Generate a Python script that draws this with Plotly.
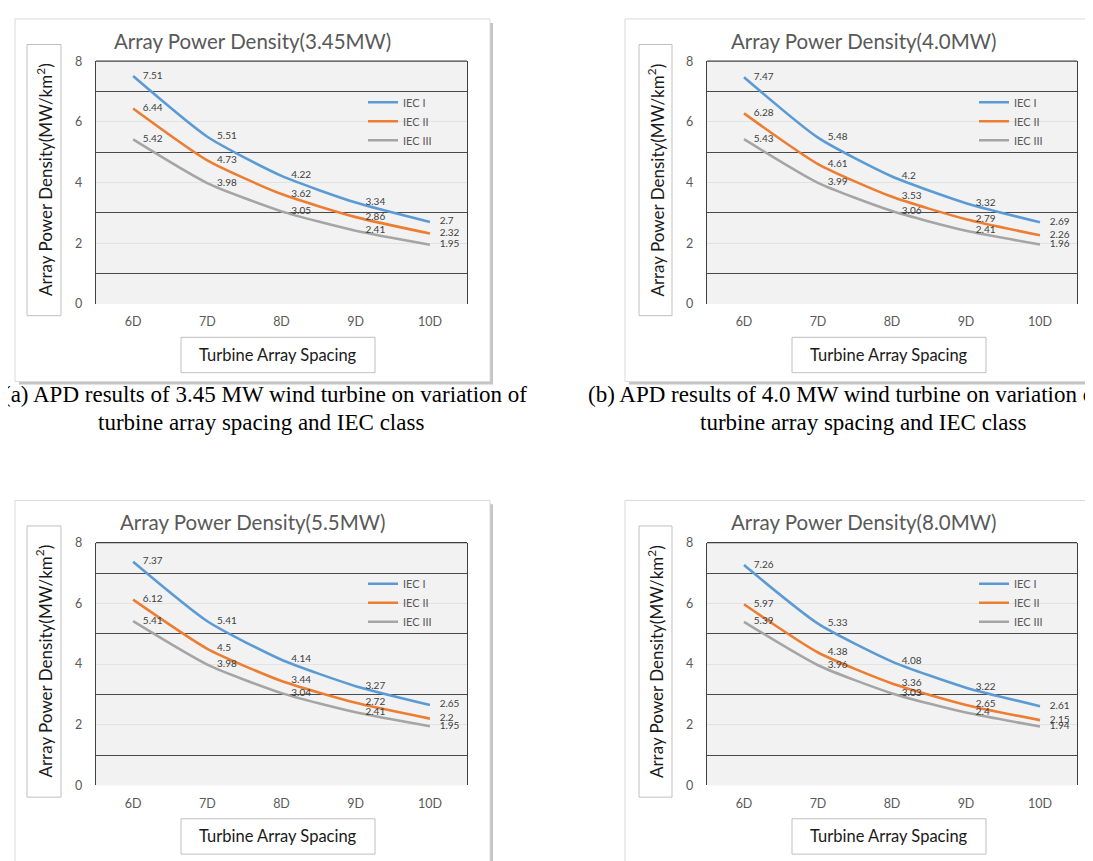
import plotly.graph_objects as go

W, H = 1093, 861

# ---------------- data ----------------
spacing = ['6D', '7D', '8D', '9D', '10D']
series_names = ['IEC I', 'IEC II', 'IEC III']

apd_345_iec1 = [7.51, 5.51, 4.22, 3.34, 2.7]
apd_345_iec2 = [6.44, 4.73, 3.62, 2.86, 2.32]
apd_345_iec3 = [5.42, 3.98, 3.05, 2.41, 1.95]

apd_40_iec1 = [7.47, 5.48, 4.2, 3.32, 2.69]
apd_40_iec2 = [6.28, 4.61, 3.53, 2.79, 2.26]
apd_40_iec3 = [5.43, 3.99, 3.06, 2.41, 1.96]

apd_55_iec1 = [7.37, 5.41, 4.14, 3.27, 2.65]
apd_55_iec2 = [6.12, 4.5, 3.44, 2.72, 2.2]
apd_55_iec3 = [5.41, 3.98, 3.04, 2.41, 1.95]

apd_80_iec1 = [7.26, 5.33, 4.08, 3.22, 2.61]
apd_80_iec2 = [5.97, 4.38, 3.36, 2.65, 2.15]
apd_80_iec3 = [5.39, 3.96, 3.03, 2.4, 1.94]

titles = ['Array Power Density(3.45MW)', 'Array Power Density(4.0MW)',
          'Array Power Density(5.5MW)', 'Array Power Density(8.0MW)']
y_title = 'Array Power Density(MW/km<sup>2</sup>)'
x_title = 'Turbine Array Spacing'
captions = [
    ('(a) APD results of 3.45 MW wind turbine on variation of', 'turbine array spacing and IEC class'),
    ('(b) APD results of 4.0 MW wind turbine on variation of', 'turbine array spacing and IEC class'),
]

panel_data = [
    [apd_345_iec1, apd_345_iec2, apd_345_iec3],
    [apd_40_iec1, apd_40_iec2, apd_40_iec3],
    [apd_55_iec1, apd_55_iec2, apd_55_iec3],
    [apd_80_iec1, apd_80_iec2, apd_80_iec3],
]

# ---------------- layout (pixels) ----------------
colors = ['#5B9BD5', '#ED7D31', '#A5A5A5']
FONT = 'Lato'
GRAY = '#595959'


def px(x):
    return x / W


def py(y):
    return 1 - y / H


geoms = []
for (col, dy) in [(0, 0), (1, 0), (0, 490), (1, 490)]:
    if col == 0:
        g = dict(plot=(88, 46, 459, 293), frame=(7, 3, 482, 372), ybox=(19, 29, 53, 305),
                 xbox=(173, 327, 367, 363), title=(244, 25), legend=(355, 73))
    else:
        g = dict(plot=(699, 46, 1069, 293), frame=(617, 3, 1092, 372), ybox=(631, 29, 664, 305),
                 xbox=(784, 327, 978, 363), title=(855, 25), legend=(966, 73))
    g = {k: tuple(v + (dy if i % 2 == 1 else 0) for i, v in enumerate(val)) for k, val in g.items()}
    geoms.append(g)

fig = go.Figure()
layout = dict(
    width=W, height=H,
    margin=dict(l=0, r=0, t=0, b=0),
    paper_bgcolor='white',
    plot_bgcolor='#F2F2F2',
    showlegend=True,
    shapes=[], annotations=[],
)

for p, (g, data) in enumerate(zip(geoms, panel_data)):
    n = '' if p == 0 else str(p + 1)
    xa, ya = 'x' + n, 'y' + n
    leg = 'legend' + n
    x0, y0, x1, y1 = g['plot']

    for s in range(3):
        # line (shown in legend)
        fig.add_trace(go.Scatter(
            x=spacing, y=data[s], name=series_names[s], mode='lines',
            line=dict(color=colors[s], width=2.6, shape='spline', smoothing=0.6),
            xaxis=xa, yaxis=ya, legend=leg, hoverinfo='x+y+name',
        ))
    for s in range(3):
        # data labels
        fig.add_trace(go.Scatter(
            x=spacing, y=data[s], name=series_names[s], mode='markers+text',
            marker=dict(size=14, opacity=0, color=colors[s]),
            text=[str(v) for v in data[s]], textposition='middle right',
            textfont=dict(family=FONT, size=10, color='#404040'),
            xaxis=xa, yaxis=ya, showlegend=False, cliponaxis=False, hoverinfo='skip',
        ))

    layout['xaxis' + n] = dict(
        domain=[px(x0), px(x1)], anchor=ya, type='category',
        categoryorder='array', categoryarray=spacing, range=[-0.5, 4.5],
        showgrid=False, zeroline=False, showline=False, ticks='',
        tickfont=dict(family=FONT, size=12.5, color=GRAY), ticklabelstandoff=9,
    )
    layout['yaxis' + n] = dict(
        domain=[py(y1), py(y0)], anchor=xa, range=[0, 8], dtick=2, tick0=0,
        showgrid=True, gridcolor='#E2E2E2', gridwidth=1,
        minor=dict(dtick=1, tick0=0, showgrid=True, gridcolor='#4A4A4A', gridwidth=1.3),
        zeroline=False, showline=True, linecolor='#404040', linewidth=1.3, mirror=True,
        ticks='', tickfont=dict(family=FONT, size=12.5, color=GRAY), ticklabelstandoff=10,
    )
    layout[leg] = dict(
        x=px(g['legend'][0]), y=py(g['legend'][1]), xanchor='left', yanchor='top',
        bgcolor='rgba(0,0,0,0)', borderwidth=0,
        font=dict(family=FONT, size=11, color=GRAY), itemclick=False,
    )

    # top border of plot area
    layout['shapes'].append(dict(type='line', xref=xa + ' domain', yref=ya + ' domain',
                                 x0=0, x1=1, y0=1, y1=1, line=dict(color='#404040', width=1.3)))
    # outer frame + shadow
    fx0, fy0, fx1, fy1 = g['frame']
    layout['shapes'].append(dict(type='line', xref='paper', yref='paper', layer='below',
                                 x0=px(fx1 + 1.5), x1=px(fx1 + 1.5), y0=py(fy0 + 4), y1=py(fy1 + 2),
                                 line=dict(color='#C4C4C4', width=3)))
    layout['shapes'].append(dict(type='line', xref='paper', yref='paper', layer='below',
                                 x0=px(fx0 + 4), x1=px(fx1 + 3), y0=py(fy1 + 1.5), y1=py(fy1 + 1.5),
                                 line=dict(color='#C4C4C4', width=3)))
    layout['shapes'].append(dict(type='rect', xref='paper', yref='paper', layer='below',
                                 x0=px(fx0), x1=px(fx1), y0=py(fy1), y1=py(fy0),
                                 line=dict(color='#DADADA', width=1), fillcolor='rgba(0,0,0,0)'))
    # axis title boxes
    for key in ('ybox', 'xbox'):
        bx0, by0, bx1, by1 = g[key]
        layout['shapes'].append(dict(type='rect', xref='paper', yref='paper', layer='below',
                                     x0=px(bx0), x1=px(bx1), y0=py(by1), y1=py(by0),
                                     line=dict(color='#BFBFBF', width=1), fillcolor='rgba(0,0,0,0)'))
    bx0, by0, bx1, by1 = g['ybox']
    layout['annotations'].append(dict(
        text=y_title, textangle=-90, xref='paper', yref='paper',
        x=px((bx0 + bx1) / 2), y=py((by0 + by1) / 2), xanchor='center', yanchor='middle',
        showarrow=False, font=dict(family=FONT, size=17, color='#1A1A1A')))
    bx0, by0, bx1, by1 = g['xbox']
    layout['annotations'].append(dict(
        text=x_title, xref='paper', yref='paper',
        x=px((bx0 + bx1) / 2), y=py((by0 + by1) / 2), xanchor='center', yanchor='middle',
        showarrow=False, font=dict(family=FONT, size=16.5, color='#1A1A1A')))
    tx, ty = g['title']
    layout['annotations'].append(dict(
        text=titles[p], xref='paper', yref='paper', x=px(tx), y=py(ty),
        xanchor='center', yanchor='middle', showarrow=False,
        font=dict(family=FONT, size=20.5, color=GRAY)))

# captions under the top panels
cap_font = dict(family='Liberation Serif', size=23, color='black')
layout['annotations'] += [
    dict(text=captions[0][0], xref='paper', yref='paper', x=px(521), y=py(385),
         xanchor='right', yanchor='middle', showarrow=False, font=cap_font),
    dict(text=captions[0][1], xref='paper', yref='paper', x=px(253), y=py(414),
         xanchor='center', yanchor='middle', showarrow=False, font=cap_font),
    dict(text=captions[1][0], xref='paper', yref='paper', x=px(578), y=py(385),
         xanchor='left', yanchor='middle', showarrow=False, font=cap_font),
    dict(text=captions[1][1], xref='paper', yref='paper', x=px(855), y=py(414),
         xanchor='center', yanchor='middle', showarrow=False, font=cap_font),
]

fig.update_layout(**layout)
fig.write_html('out.html')
